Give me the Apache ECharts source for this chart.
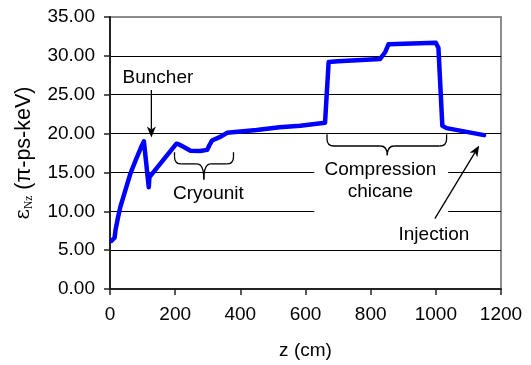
<!DOCTYPE html>
<html><head><meta charset="utf-8">
<script src="https://cdn.jsdelivr.net/npm/echarts@6/dist/echarts.min.js"></script>
<style>html,body{margin:0;padding:0;background:#fff}#c{width:531px;height:365px}</style>
</head><body><div id="c"></div>
<script>
// ---- data ----
const zValues   = [5, 10, 14, 17, 25, 32, 45, 63, 80, 95, 104, 119, 121, 204, 212, 225, 247, 277, 298, 305, 313, 340, 359, 450, 520, 584, 660, 671, 700, 829, 845, 855, 1000, 1008, 1020, 1033, 1148];
const epsValues = [6.2, 6.4, 6.6, 7.6, 9.3, 10.6, 12.4, 14.9, 16.7, 18.2, 19.0, 13.1, 14.4, 18.7, 18.6, 18.3, 17.8, 17.75, 17.9, 18.5, 19.1, 19.6, 20.1, 20.45, 20.8, 21.0, 21.4, 29.2, 29.3, 29.6, 30.5, 31.5, 31.7, 31.0, 21.0, 20.7, 19.8];
const xTickLabels = ['0', '200', '400', '600', '800', '1000', '1200'];
const yTickLabels = ['0.00', '5.00', '10.00', '15.00', '20.00', '25.00', '30.00', '35.00'];

// annotations (data coordinates)
const labelTexts   = ['Buncher', 'Cryounit', 'Compression\nchicane', 'Injection'];
const labelZ       = [147, 302, 830, 994];
const labelEps     = [27.2, 12.2, 13.9, 7.0];
const arrowFrom    = [[127, 25.6], [997, 9.05]];
const arrowTo      = [[127, 19.5], [1133, 18.45]];
// braces: [zLeft, zRight, zCenter, epsTop, epsBar, epsTip]
const braces       = [[198, 379, 288, 17.6, 16.1, 14.1], [666, 1033, 851, 19.9, 18.4, 17.2]];
const maskBox      = [[627, 17.2], [1038, 7.9]];

const FONT = "'Liberation Sans', Arial, sans-serif";
const chart = echarts.init(document.getElementById('c'), null, {renderer: 'canvas'});

const seriesData = zValues.map((z, i) => [z, epsValues[i]]);

chart.setOption({
  animation: false,
  backgroundColor: '#fff',
  grid: {left: 110, right: 30, top: 17, bottom: 71, show: true, borderColor: '#8c8c8c', borderWidth: 2, backgroundColor: 'transparent'},
  xAxis: {
    type: 'value', min: 0, max: 1200, interval: 200,
    name: 'z (cm)', nameLocation: 'middle', nameGap: 52,
    nameTextStyle: {fontFamily: FONT, fontSize: 19, color: '#000'},
    axisLine: {show: true, lineStyle: {color: '#222', width: 2}},
    axisTick: {show: true, length: 6, lineStyle: {color: '#222', width: 1.5}},
    axisLabel: {fontFamily: FONT, fontSize: 19, color: '#000', margin: 16,
      formatter: (v) => xTickLabels[Math.round(v / 200)]},
    splitLine: {show: false}
  },
  yAxis: {
    type: 'value', min: 0, max: 35, interval: 5,
    name: '{eps|ε}{sub|Nz} (π-ps-keV)', nameLocation: 'middle', nameRotate: 90, nameGap: 75,
    nameTextStyle: {fontFamily: FONT, fontSize: 21.5, color: '#000',
      rich: {
        eps: {fontFamily: "'DejaVu Serif', serif", fontSize: 20, color: '#000'},
        sub: {fontFamily: "'Liberation Serif', serif", fontSize: 11.5, color: '#000', padding: [9, 0, 0, 0]}
      }},
    axisLine: {show: true, lineStyle: {color: '#222', width: 2}},
    axisTick: {show: true, length: 6, lineStyle: {color: '#222', width: 1.5}},
    axisLabel: {fontFamily: FONT, fontSize: 19, color: '#000', margin: 15,
      formatter: (v) => yTickLabels[Math.round(v / 5)]},
    splitLine: {show: true, showMinLine: false, showMaxLine: false, lineStyle: {color: '#000', width: 1}}
  },
  series: [{
    type: 'line', data: seriesData, showSymbol: false, symbol: 'none', z: 10,
    lineStyle: {color: '#0000ff', width: 4.5, join: 'round', cap: 'round'}
  }]
});

function px(p) { return chart.convertToPixel({gridIndex: 0}, p); }

const g = [];
const strokeStyle = {fill: null, stroke: '#000', lineWidth: 1.3};
// white mask box behind Compression chicane label
const b0 = px(maskBox[0]), b1 = px(maskBox[1]);
g.push({type: 'rect', z: 3, shape: {x: b0[0], y: b0[1], width: b1[0] - b0[0], height: b1[1] - b0[1]}, style: {fill: '#fff'}});

// braces
braces.forEach(b => {
  const L = px([b[0], b[3]]), R = px([b[1], b[3]]);
  const C = px([b[2], b[4]]), T = px([b[2], b[5]]);
  const yTop = L[1], yBar = C[1], yTip = T[1], xl = L[0], xr = R[0], xc = C[0];
  const r = Math.min(7, (yBar - yTop));
  const segs = [
    {type: 'line', shape: {x1: xl, y1: yTop, x2: xl, y2: yBar - r}},
    {type: 'bezierCurve', shape: {x1: xl, y1: yBar - r, cpx1: xl, cpy1: yBar, x2: xl + r, y2: yBar}},
    {type: 'line', shape: {x1: xl + r, y1: yBar, x2: xc - r, y2: yBar}},
    {type: 'bezierCurve', shape: {x1: xc - r, y1: yBar, cpx1: xc, cpy1: yBar, x2: xc, y2: yTip}},
    {type: 'bezierCurve', shape: {x1: xc, y1: yTip, cpx1: xc, cpy1: yBar, x2: xc + r, y2: yBar}},
    {type: 'line', shape: {x1: xc + r, y1: yBar, x2: xr - r, y2: yBar}},
    {type: 'bezierCurve', shape: {x1: xr - r, y1: yBar, cpx1: xr, cpy1: yBar, x2: xr, y2: yBar - r}},
    {type: 'line', shape: {x1: xr, y1: yBar - r, x2: xr, y2: yTop}}
  ];
  segs.forEach(s => { s.z = 5; s.style = strokeStyle; g.push(s); });
});

// arrows
arrowFrom.forEach((a, i) => {
  const s = px(a), t = px(arrowTo[i]);
  const dx = t[0] - s[0], dy = t[1] - s[1];
  const len = Math.hypot(dx, dy), ux = dx / len, uy = dy / len;
  const hl = 11, hw = 4.5, notch = 3;
  const bx = t[0] - ux * hl, by = t[1] - uy * hl;
  g.push({type: 'line', z: 5, shape: {x1: s[0], y1: s[1], x2: t[0] - ux * (hl - notch), y2: t[1] - uy * (hl - notch)}, style: {stroke: '#000', lineWidth: 1.3}});
  g.push({type: 'polygon', z: 5, shape: {points: [
    [t[0], t[1]],
    [bx - uy * hw, by + ux * hw],
    [t[0] - ux * (hl - notch), t[1] - uy * (hl - notch)],
    [bx + uy * hw, by - ux * hw]
  ]}, style: {fill: '#000'}});
});

// labels
labelTexts.forEach((txt, i) => {
  const p = px([labelZ[i], labelEps[i]]);
  g.push({type: 'text', z: 6, x: p[0], y: p[1], style: {text: txt, fontFamily: FONT, fontSize: 19, fill: '#000',
    align: 'center', verticalAlign: 'middle', lineHeight: 22}});
});

chart.setOption({graphic: g});
</script>
</body></html>
